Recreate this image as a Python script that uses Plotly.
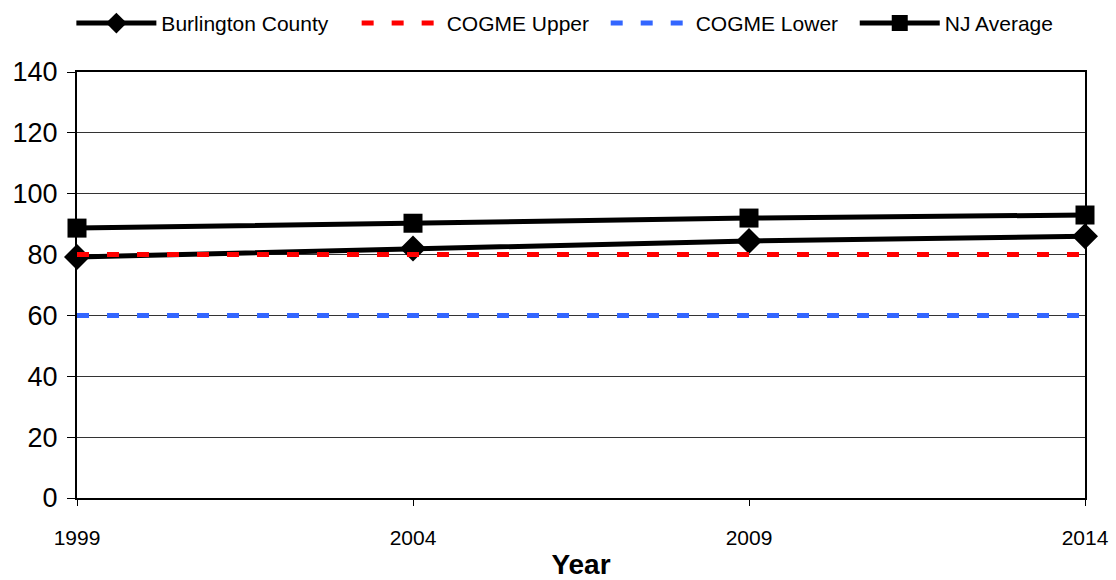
import plotly.graph_objects as go

years = [1999, 2004, 2009, 2014]
burlington = [79.2, 82.0, 84.5, 86.0]
cogme_upper = [80, 80, 80, 80]
cogme_lower = [60, 60, 60, 60]
nj_average = [88.7, 90.3, 92.0, 93.0]
y_ticks = [0, 20, 40, 60, 80, 100, 120, 140]

FONT = "Liberation Sans, Arial, sans-serif"
PAD = "\u00a0"  # non-breaking space to widen legend spacing

fig = go.Figure()
fig.add_trace(go.Scatter(
    x=years, y=burlington, name="Burlington County" + PAD * 4, mode="lines+markers",
    line=dict(color="black", width=5),
    marker=dict(symbol="diamond", size=20, color="black"),
    cliponaxis=False,
))
fig.add_trace(go.Scatter(
    x=years, y=cogme_upper, name="COGME Upper" + PAD * 2, mode="lines",
    line=dict(color="#ff0000", width=5, dash="12px,18px"),
    cliponaxis=False,
))
fig.add_trace(go.Scatter(
    x=years, y=cogme_lower, name="COGME Lower" + PAD * 2, mode="lines",
    line=dict(color="#3366ff", width=5, dash="12px,18px"),
    cliponaxis=False,
))
fig.add_trace(go.Scatter(
    x=years, y=nj_average, name="NJ Average", mode="lines+markers",
    line=dict(color="black", width=5),
    marker=dict(symbol="square", size=19, color="black"),
    cliponaxis=False,
))

fig.update_layout(
    width=1116, height=580,
    margin=dict(l=77, r=31, t=72, b=82),
    paper_bgcolor="white", plot_bgcolor="white",
    font=dict(family=FONT, color="black"),
    showlegend=True,
    legend=dict(
        orientation="h", x=0.484, xanchor="center", y=0.995, yanchor="top",
        yref="container", font=dict(size=21, family=FONT),
        itemwidth=80, bgcolor="rgba(0,0,0,0)",
    ),
    xaxis=dict(
        range=[1999, 2014], tickvals=years, ticktext=[str(y) for y in years],
        showgrid=False, zeroline=False, automargin=False,
        showline=True, linecolor="black", linewidth=2, mirror=True,
        ticks="outside", ticklen=6, tickcolor="black", tickwidth=1,
        ticklabelstandoff=14,
        tickfont=dict(size=21, family=FONT),
        title=dict(text="<b>Year</b>", font=dict(size=28, family=FONT), standoff=8),
    ),
    yaxis=dict(
        range=[0, 140], tickvals=y_ticks,
        showgrid=True, gridcolor="#333333", gridwidth=1, zeroline=False,
        automargin=False,
        showline=True, linecolor="black", linewidth=2, mirror=True,
        ticks="outside", ticklen=8, tickcolor="black", tickwidth=1,
        ticklabelstandoff=4,
        tickfont=dict(size=27, family=FONT),
    ),
)

fig.write_html("out.html")
